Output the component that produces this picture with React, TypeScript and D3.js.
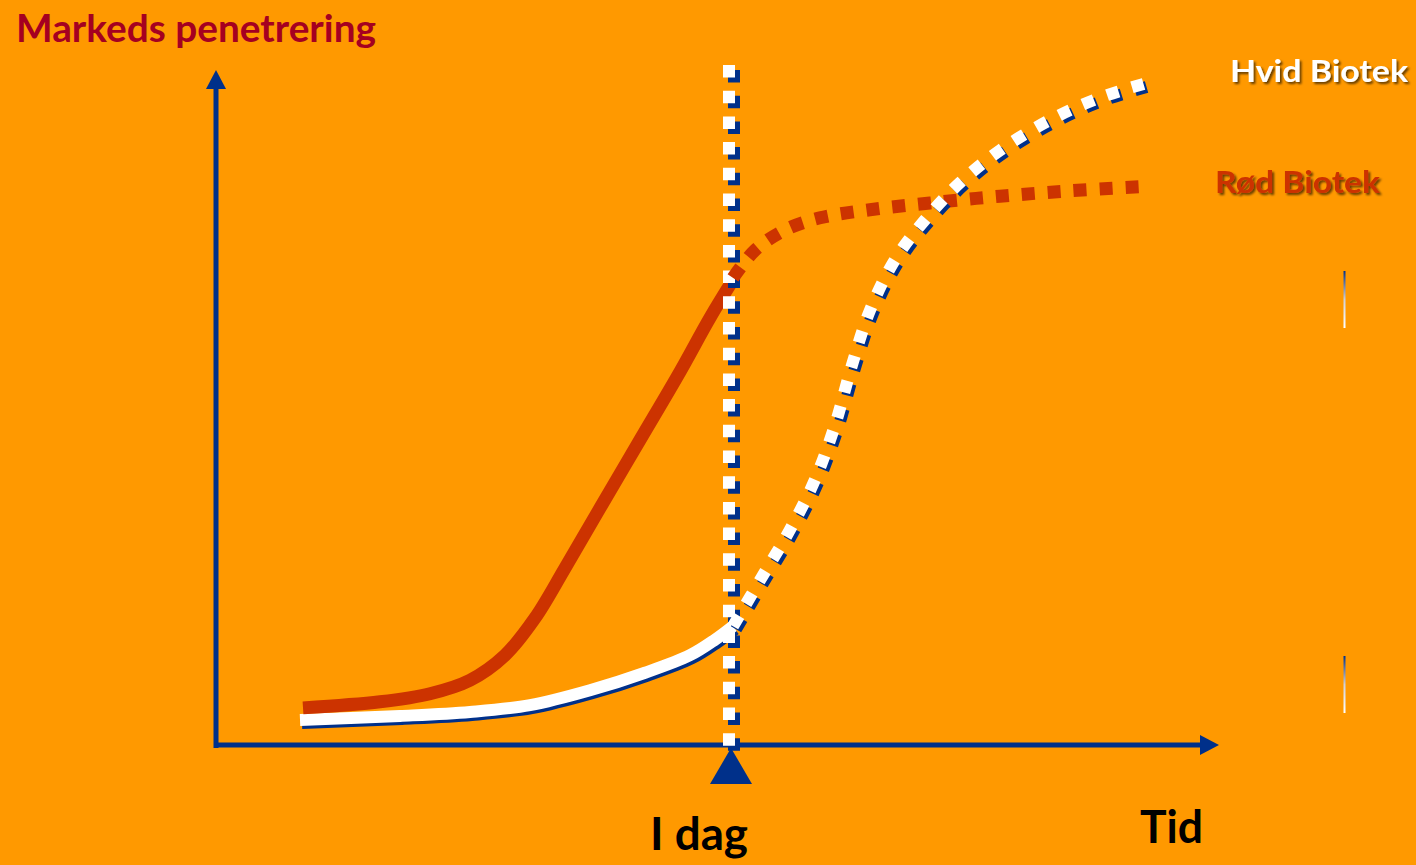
import React from "react";
import * as d3 from "d3";

const W = 1416;
const H = 865;

// data space: time 0..100, penetration 0..100
const todayTime = 51.3;
const axisTicksX = ["I dag", "Tid"];
const seriesNames = ["Hvid Biotek", "Rød Biotek"];
const yTitle = "Markeds penetrering";

const redPast: [number, number][] = [
  [8.7, 5.5], [16.4, 6.4], [21.4, 7.6], [25.4, 9.6], [28.9, 13.3], [31.9, 18.8],
  [34.9, 26.2], [38.4, 35.1], [42.4, 45.2], [46.4, 55.3], [49.4, 63.3], [51.7, 68.9],
];
const redFuture: [number, number][] = [
  [51.7, 69.2], [53.9, 73.3], [56.9, 76.3], [60.4, 78.1], [65.4, 79.3],
  [71.4, 80.3], [78.4, 81.3], [85.4, 82.1], [92.4, 82.7],
];
const whitePast: [number, number][] = [
  [8.4, 3.7], [18.4, 4.3], [25.4, 4.9], [31.4, 5.9], [37.4, 8.1], [42.9, 10.7],
  [47.4, 13.3], [49.9, 15.6], [51.7, 17.6],
];
const whiteFuture: [number, number][] = [
  [51.7, 17.6], [54.4, 24.4], [57.4, 31.9], [59.9, 39.3], [61.9, 47.4], [63.6, 56.3],
  [65.4, 64.4], [67.9, 71.9], [70.9, 77.8], [74.4, 83.3], [78.4, 88.1], [83.4, 92.6],
  [88.4, 95.9], [93.4, 98.2],
];

const BG = "#FF9900";
const NAVY = "#00308A";
const RED = "#CC3300";
const TITLE = "#A50021";

export default function App() {
  const x = d3.scaleLinear().domain([0, 100]).range([216, 1216]);
  const y = d3.scaleLinear().domain([0, 100]).range([745, 70]);
  const line = d3
    .line<[number, number]>()
    .x((d) => x(d[0]))
    .y((d) => y(d[1]))
    .curve(d3.curveCatmullRom.alpha(0.5));

  const tx = x(todayTime);
  const vLine = `M${tx},65 L${tx},747`;

  const font = "Lato, 'Open Sans', sans-serif";

  return (
    <svg
      width={W}
      height={H}
      style={{ position: "absolute", left: 0, top: 0, display: "block" }}
    >
      <defs>
        <linearGradient id="mark" x1="0" y1="0" x2="0" y2="1">
          <stop offset="0" stopColor={NAVY} />
          <stop offset="0.5" stopColor="#d0d0d8" />
          <stop offset="1" stopColor="#ffffff" />
        </linearGradient>
        <filter id="ts" x="-10%" y="-20%" width="130%" height="150%">
          <feDropShadow dx="2" dy="2" stdDeviation="1" floodColor="#000" floodOpacity="0.6" />
        </filter>
      </defs>
      <rect x={0} y={0} width={W} height={H} fill={BG} />

      {/* axes */}
      <line x1={216} y1={748} x2={216} y2={86} stroke={NAVY} strokeWidth={5} />
      <path d="M216,70 L206,89 L226,89 Z" fill={NAVY} />
      <line x1={214} y1={745} x2={1202} y2={745} stroke={NAVY} strokeWidth={5} />
      <path d="M1219,745 L1200,735 L1200,755 Z" fill={NAVY} />

      {/* white past line with navy shadow */}
      <path d={line(whitePast) || ""} fill="none" stroke={NAVY} strokeWidth={12} transform="translate(2,3)" />
      <path d={line(whitePast) || ""} fill="none" stroke="#fff" strokeWidth={12} />

      {/* red past */}
      <path d={line(redPast) || ""} fill="none" stroke={RED} strokeWidth={13} />

      {/* today vertical dotted line */}
      <path d={vLine} stroke={NAVY} strokeWidth={12} strokeDasharray="12.5 13.2" transform="translate(5,5)" />
      <path d={vLine} stroke="#fff" strokeWidth={12} strokeDasharray="12.5 13.2" />

      {/* red future dotted */}
      <path d={line(redFuture) || ""} fill="none" stroke={RED} strokeWidth={13} strokeDasharray="13 13" />

      {/* white future dotted */}
      <path d={line(whiteFuture) || ""} fill="none" stroke={NAVY} strokeWidth={12} strokeDasharray="12 14" transform="translate(3,3)" />
      <path d={line(whiteFuture) || ""} fill="none" stroke="#fff" strokeWidth={12} strokeDasharray="12 14" />

      {/* today triangle */}
      <path d={`M${tx + 2},748 L${tx - 19},784 L${tx + 23},784 Z`} fill={NAVY} />

      {/* small gradient marks */}
      <rect x={1343.5} y={271} width={2} height={57} fill="url(#mark)" />
      <rect x={1343.5} y={656} width={2} height={57} fill="url(#mark)" />

      {/* texts */}
      <text x={16} y={42} fill={TITLE} fontFamily={font} fontWeight={700} fontSize={38}
        textLength={360} lengthAdjust="spacingAndGlyphs">{yTitle}</text>
      <text x={1230} y={82} fill="#fff" fontFamily={font} fontWeight={700} fontSize={31}
        textLength={178} lengthAdjust="spacingAndGlyphs" filter="url(#ts)">{seriesNames[0]}</text>
      <text x={1215} y={193} fill={RED} fontFamily={font} fontWeight={700} fontSize={31}
        textLength={165} lengthAdjust="spacingAndGlyphs" filter="url(#ts)">{seriesNames[1]}</text>
      <text x={650} y={850} fill="#000" fontFamily={font} fontWeight={700} fontSize={45}
        textLength={98} lengthAdjust="spacingAndGlyphs">{axisTicksX[0]}</text>
      <text x={1140} y={843} fill="#000" fontFamily={font} fontWeight={700} fontSize={45}
        textLength={63} lengthAdjust="spacingAndGlyphs">{axisTicksX[1]}</text>
    </svg>
  );
}
